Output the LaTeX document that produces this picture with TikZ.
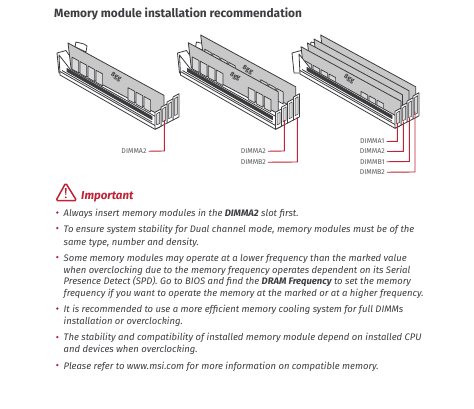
\documentclass[tikz,border=0pt]{standalone}
\usepackage{fontspec}
\setmainfont{Fira Sans}
\definecolor{txt}{RGB}{62,62,66}
\definecolor{edge}{RGB}{60,60,63}
\definecolor{plate}{RGB}{200,200,200}
\definecolor{msired}{RGB}{190,35,55}
\tikzset{
  ln/.style={draw=edge,line width=.8pt,line join=round},
  platest/.style={ln,fill=plate},
  chipst/.style={ln,fill=plate!70!white,line width=.7pt},
  leader/.style={draw=msired,line width=.9pt},
  slotlab/.style={font=\fontsize{7}{8}\selectfont,text=txt!85!white,anchor=mid,inner sep=0pt},
  chiplab/.style={font=\fontsize{6.5}{7}\selectfont\bfseries,text=edge,rotate=-30,anchor=center,inner sep=0pt},
  body/.style={font=\fontsize{9.47}{12}\selectfont\itshape,text=txt,anchor=base west,inner sep=0pt},
  bul/.style={fill=msired,draw=none,circle,minimum size=2.6pt,inner sep=0pt},
}
\newcommand\plateat[3]{%
  \begin{scope}[shift={(#1,#2)}]
    \path[platest] (0,0) -- (#3,{#3*.545}) -- (#3,{#3*.545+22}) -- (3,25) -- cycle;
    \foreach \cx in {4,12,20,28, 60,68,76}{
      \path[chipst] (\cx,{\cx*.545+12}) -- (\cx+6.6,{(\cx+6.6)*.545+12}) -- (\cx+6.6,{(\cx+6.6)*.545+24}) -- (\cx,{\cx*.545+24}) -- cycle;
    }
  \end{scope}}
\newcommand\slotback[2]{%
  \begin{scope}[shift={(#1,#2)}]
    \path[ln,fill=white] (7,4) -- (8,-1) -- (16,1) -- (19,3) -- (18,9) -- cycle;
    \path[ln,fill=white] (-11,10) -- (-2,7.5) -- (1,12) -- (8,12) -- (8,30) -- (-9,30) -- cycle;
  \end{scope}}
\newcommand\slotfront[2]{%
  \begin{scope}[shift={(#1,#2)}]
    \path[ln,fill=white] (-9,12) -- (-8,32) -- (87,86.3) -- (92,84) -- (92,76) -- (2,26) -- cycle;
    \path[ln,fill=edge] (-1,25.5) -- (84,73.5) -- (84,76.5) -- (-1,28.5) -- cycle;
    \draw[ln] (-6,27.5) -- (84,79);
    \draw[ln] (-8,28.5) -- (87,82.5);
    \foreach \i in {3,2,1,0}{
      \path[ln,fill=white] ({87+6*\i},{86.3-3.1*\i}) -- ({93+6*\i},{83.2-3.1*\i}) -- ({93+6*\i},{66-5.1*\i}) -- ({87+6*\i},{69.3-5.1*\i}) -- cycle;
      \path[ln,fill=plate!70!white,line width=.5pt] ({88.5+6*\i},{82-3.1*\i}) -- ({91.5+6*\i},{80.5-3.1*\i}) -- ({91.5+6*\i},{69-5.1*\i}) -- ({88.5+6*\i},{71-5.1*\i}) -- cycle;
    }
  \end{scope}}
\begin{document}
\begin{tikzpicture}[x=1pt,y=-1pt]
\useasboundingbox (0,0) rectangle (474,408);
\fill[white] (0,0) rectangle (474,408);
\node[font=\fontsize{11.9}{13}\selectfont\bfseries,text=txt,anchor=base west,inner sep=0pt] (title) at (54,17) {Memory module installation recommendation};

% left
\slotback{68}{43}
\plateat{68}{43}{96}
\node[chiplab] (l1) at (116,77) {8gg};
\slotfront{68}{43}
% middle
\slotback{188.5}{43}
\plateat{200.7}{35}{95}
\node[chiplab] (m1) at (247.7,70) {8gg};
\plateat{188.3}{42.7}{90}
\node[chiplab] (m2) at (235,76.7) {8gg};
\slotfront{188.5}{43}
% right
\slotback{303}{43}
\plateat{320.7}{35}{95}
\plateat{314}{39}{95}
\plateat{307.5}{43}{95}
\plateat{301}{46.7}{100}
\node[chiplab] (r1) at (349,79) {8gg};
\slotfront{308}{42}

% leaders
\node[slotlab] (a) at (134,151) {DIMMA2};
\coordinate (ae) at (164.3,120);
\draw[leader] (a.east)++(2,0) -- (164.3,151) -- (ae);

\node[slotlab] (b) at (253.3,151) {DIMMA2};
\node[slotlab] (c) at (253.3,162) {DIMMB2};
\coordinate (be) at (284.3,120);
\coordinate (ce) at (297.3,117);
\draw[leader] (b.east)++(2,0) -- (284.3,151) -- (be);
\draw[leader] (c.east)++(2,0) -- (297.3,162) -- (ce);

\node[slotlab] (d) at (372.3,141.3) {DIMMA1};
\node[slotlab] (e) at (372.3,151.3) {DIMMA2};
\node[slotlab] (f) at (372.3,161.5) {DIMMB1};
\node[slotlab] (g) at (372.3,172) {DIMMB2};
\coordinate (de) at (397.3,123);
\coordinate (ee) at (403.3,121.7);
\coordinate (fe) at (409.3,118);
\coordinate (ge) at (415,111.7);
\draw[leader] (d.east)++(2,0) -- (397.3,141.3) -- (de);
\draw[leader] (e.east)++(2,0) -- (403.3,151.3) -- (ee);
\draw[leader] (f.east)++(2,0) -- (409.3,161.5) -- (fe);
\draw[leader] (g.east)++(2,0) -- (415,172) -- (ge);

% important
\draw[msired,line width=1.5pt,line join=round,rounded corners=1.5pt] (65.7,183) -- (76.6,200.6) -- (56,200.6) -- cycle;
\fill[msired] (64.9,188) -- (66.7,188) -- (66.2,195) -- (65.4,195) -- cycle;
\fill[msired] (65.8,197.3) circle (1pt);
\node[font=\fontsize{11.5}{13}\selectfont\bfseries\itshape,text=msired,anchor=base west,inner sep=0pt] (imp) at (81,199.5) {Important};

% bullets & text
\foreach \by in {212.5,228,257,308.5,337,365}{\node[bul] at (57.3,\by) {};}
\node[body] (t1) at (63.5,216.7) {Always insert memory modules in the \textbf{DIMMA2} slot first.};
\node[body] (t2) at (63.5,232.8) {To ensure system stability for Dual channel mode, memory modules must be of the};
\node[body] (t3) at (63.5,245) {same type, number and density.};
\node[body] (t4) at (63.5,261) {Some memory modules may operate at a lower frequency than the marked value};
\node[body] (t5) at (63.5,273) {when overclocking due to the memory frequency operates dependent on its Serial};
\node[body] (t6) at (63.5,284.5) {Presence Detect (SPD). Go to BIOS and find the \textbf{DRAM Frequency} to set the memory};
\node[body] (t7) at (63.5,296) {frequency if you want to operate the memory at the marked or at a higher frequency.};
\node[body] (t8) at (63.5,312.7) {It is recommended to use a more efficient memory cooling system for full DIMMs};
\node[body] (t9) at (63.5,324) {installation or overclocking.};
\node[body] (t10) at (63.5,340.7) {The stability and compatibility of installed memory module depend on installed CPU};
\node[body] (t11) at (63.5,352.3) {and devices when overclocking.};
\node[body] (t12) at (63.5,369) {Please refer to www.msi.com for more information on compatible memory.};
\end{tikzpicture}
\end{document}
